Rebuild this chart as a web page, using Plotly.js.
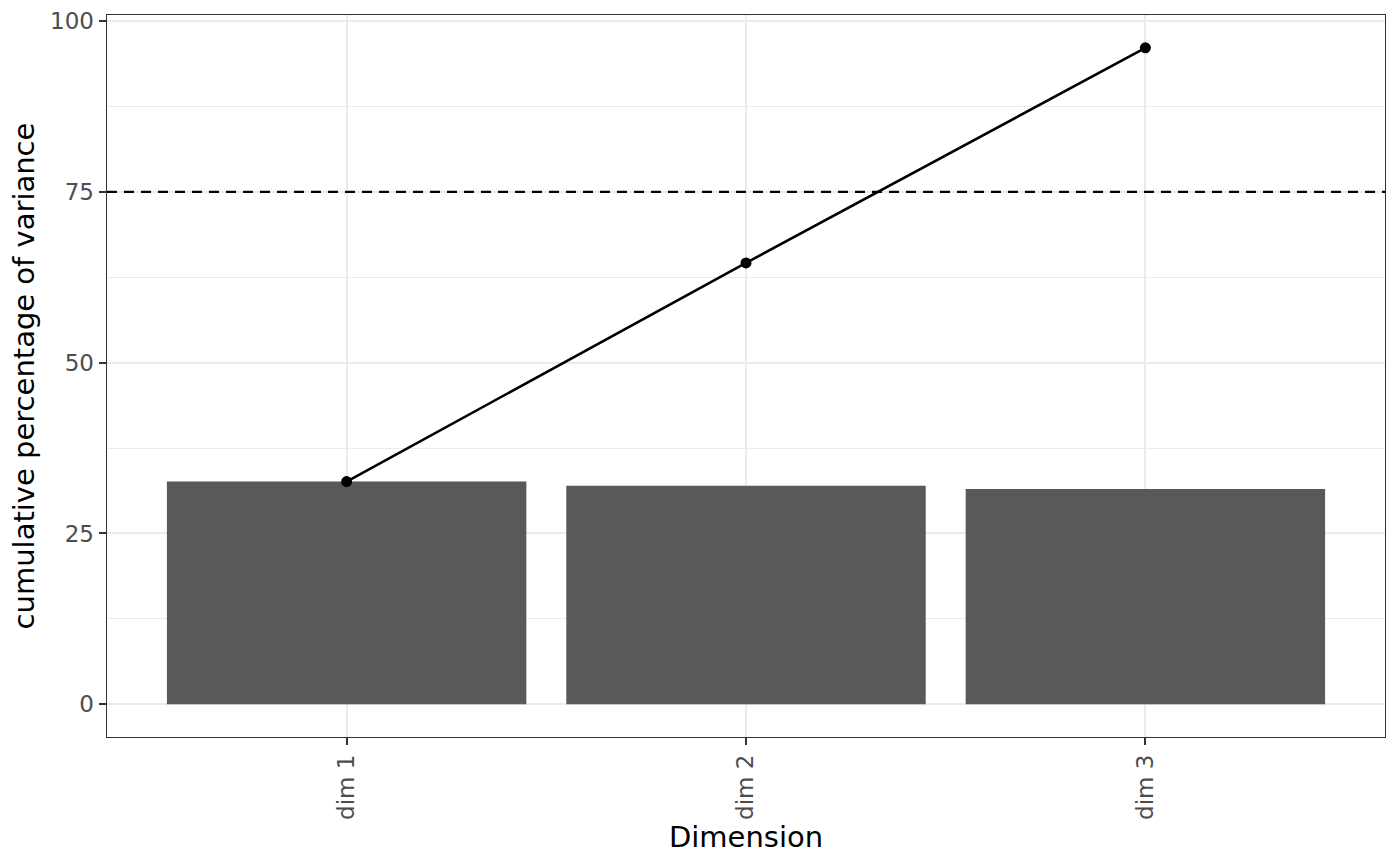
<!DOCTYPE html>
<html>
<head>
<meta charset="utf-8">
<script src="https://cdn.plot.ly/plotly-3.0.1.min.js"></script>
<style>
html,body{margin:0;padding:0;background:#fff;}
#chart{width:1400px;height:866px;}
</style>
</head>
<body>
<div id="chart"></div>
<script>
const categories = ['dim 1', 'dim 2', 'dim 3'];
const varianceShare = [32.6, 32.0, 31.5];
const cumulativeVariance = [32.6, 64.6, 96.1];
const threshold = 75;
const yTickValues = [0, 25, 50, 75, 100];

const font = 'DejaVu Sans, sans-serif';

const traces = [
  {
    type: 'bar',
    x: categories,
    y: varianceShare,
    width: 0.9,
    marker: {color: '#595959', line: {width: 0}},
    hoverinfo: 'skip',
    showlegend: false
  },
  {
    type: 'scatter',
    mode: 'lines+markers',
    x: categories,
    y: cumulativeVariance,
    line: {color: '#000000', width: 2.6},
    marker: {color: '#000000', size: 11},
    hoverinfo: 'skip',
    showlegend: false,
    cliponaxis: false
  }
];

const layout = {
  width: 1400,
  height: 866,
  margin: {l: 107, r: 15, t: 15, b: 129},
  paper_bgcolor: '#ffffff',
  plot_bgcolor: '#ffffff',
  font: {family: font, color: '#000000'},
  showlegend: false,
  bargap: 0.1,
  xaxis: {
    type: 'category',
    range: [-0.6, 2.6],
    showgrid: true,
    gridcolor: '#ebebeb',
    gridwidth: 2,
    zeroline: false,
    showline: true,
    linecolor: '#333333',
    linewidth: 1.4,
    mirror: true,
    ticks: 'outside',
    ticklen: 7,
    tickwidth: 2,
    tickcolor: '#333333',
    tickangle: -90,
    tickfont: {family: font, size: 23, color: '#4d4d4d'},
    title: {text: 'Dimension', font: {family: font, size: 29, color: '#000000'}, standoff: 6}
  },
  yaxis: {
    range: [-4.8, 100.9],
    tickmode: 'array',
    tickvals: yTickValues,
    ticktext: yTickValues.map(String),
    showgrid: true,
    gridcolor: '#ebebeb',
    gridwidth: 2,
    minor: {dtick: 12.5, tick0: 0, showgrid: true, gridcolor: '#ebebeb', gridwidth: 1, ticks: ''},
    zeroline: false,
    showline: true,
    linecolor: '#333333',
    linewidth: 1.4,
    mirror: true,
    ticks: 'outside',
    ticklen: 7,
    tickwidth: 2,
    tickcolor: '#333333',
    tickfont: {family: font, size: 23, color: '#4d4d4d'},
    title: {text: 'cumulative percentage of variance', font: {family: font, size: 29, color: '#000000'}, standoff: 7}
  },
  shapes: [
    {
      type: 'line',
      xref: 'paper', x0: 0, x1: 1,
      yref: 'y', y0: threshold, y1: threshold,
      line: {color: '#000000', width: 2.4, dash: '10px,7px'},
      layer: 'above'
    }
  ]
};

Plotly.newPlot('chart', traces, layout, {staticPlot: true, displayModeBar: false});
</script>
</body>
</html>
